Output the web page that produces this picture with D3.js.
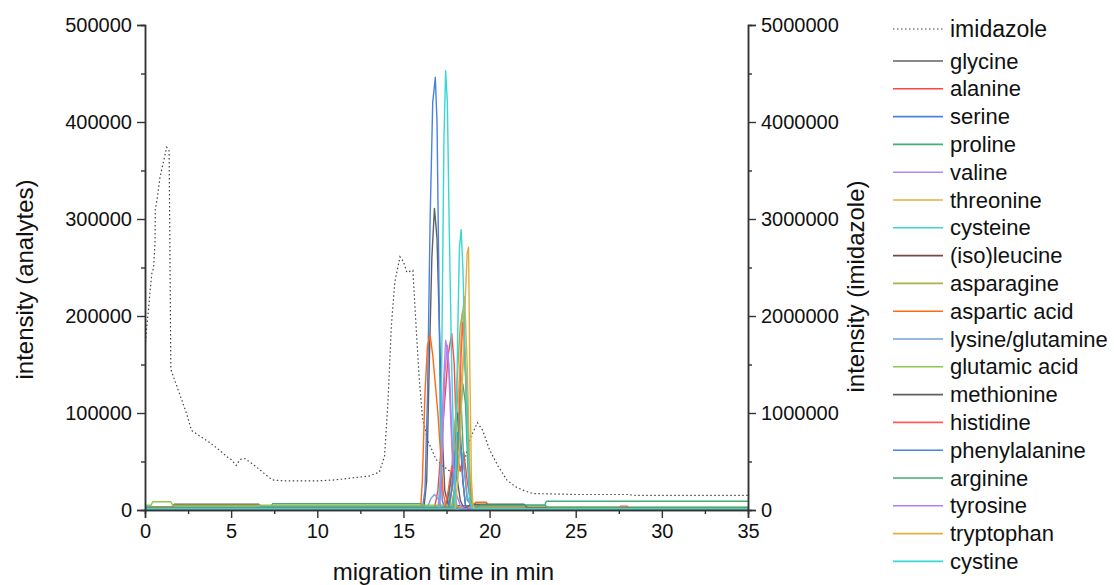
<!DOCTYPE html>
<html>
<head>
<meta charset="UTF-8">
<title>migration</title>
<script src="https://cdnjs.cloudflare.com/ajax/libs/d3/7.8.5/d3.min.js"></script>
<style>
  body { margin: 0; background: #fff; }
  text { font-family: "Liberation Sans", Arial, sans-serif; fill: #111; }
</style>
</head>
<body>
<script>

// imidazole trace (right axis), [time in min, intensity]
var imidazole = [[0,1650000],[0.1,1890000],[0.2,2060000],[0.3,2270000],[0.4,2440000],[0.5,2500000],[0.58,2750000],[0.6,3100000],[0.7,3200000],[0.87,3430000],[1.06,3580000],[1.26,3740000],[1.4,3700000],[1.45,2600000],[1.5,1450000],[1.8,1300000],[2.1,1150000],[2.4,1000000],[2.7,820000],[3.2,760000],[3.8,690000],[4.3,620000],[4.75,550000],[5.0,520000],[5.3,460000],[5.5,520000],[5.8,530000],[6.2,480000],[6.7,410000],[7.1,350000],[7.4,310000],[8,300000],[10,300000],[11,310000],[12,330000],[13,350000],[13.6,390000],[13.9,550000],[14.1,1100000],[14.3,1900000],[14.5,2350000],[14.8,2610000],[15.0,2560000],[15.2,2450000],[15.55,2470000],[15.7,2000000],[15.9,1400000],[16.1,960000],[16.4,720000],[16.9,520000],[17.3,450000],[17.7,400000],[18.1,380000],[18.5,480000],[18.9,750000],[19.3,900000],[19.6,820000],[20.0,620000],[20.5,450000],[21.0,310000],[21.5,240000],[22.0,200000],[22.5,170000],[25,160000],[28,160000],[28.5,150000],[35,150000]];

// analytes (left axis), [time in min, intensity]
var glycine = [[0,3000],[1.6,3000],[1.7,6000],[6.6,6000],[6.7,4000],[16.2,4000],[16.35,30000],[16.5,150000],[16.65,260000],[16.8,311000],[16.95,280000],[17.1,180000],[17.25,80000],[17.4,20000],[17.6,5000],[19,4000],[22,4000],[22.2,2000],[35,2000]];
var alanine = [[0,2000],[16.8,2000],[17.0,20000],[17.3,90000],[17.6,160000],[17.8,182000],[17.95,150000],[18.1,60000],[18.3,40000],[18.5,60000],[18.7,30000],[18.9,8000],[19.2,2000],[35,2000]];
var serine = [[0,1500],[16.1,1500],[16.25,20000],[16.4,120000],[16.55,300000],[16.7,420000],[16.85,446000],[16.95,400000],[17.05,250000],[17.15,80000],[17.25,10000],[17.4,1500],[35,1500]];
var proline = [[0,3000],[7.3,3000],[7.4,6500],[16,6500],[16.2,4000],[17.6,4000],[17.8,40000],[18.0,90000],[18.2,125000],[18.35,110000],[18.5,50000],[18.7,10000],[19.0,5000],[23.2,5000],[23.3,9000],[35,9000]];
var valine = [[0,1000],[17.0,1000],[17.15,30000],[17.3,120000],[17.45,175000],[17.6,160000],[17.75,90000],[17.9,30000],[18.1,5000],[18.3,1000],[35,1000]];
var threonine = [[0,1000],[17.8,1000],[18.0,30000],[18.2,120000],[18.4,200000],[18.55,220000],[18.7,150000],[18.85,40000],[19.0,5000],[19.2,1000],[35,1000]];
var cysteine = [[0,1000],[17.05,1000],[17.15,40000],[17.25,200000],[17.35,380000],[17.45,453000],[17.55,420000],[17.65,300000],[17.8,150000],[17.95,40000],[18.05,5000],[18.2,1000],[35,1000]];
var isoleucine = [[0,500],[17.6,500],[17.8,20000],[18.0,70000],[18.15,100000],[18.3,80000],[18.45,30000],[18.6,5000],[18.8,500],[35,500]];
var asparagine = [[0,2000],[17.7,2000],[17.9,40000],[18.1,130000],[18.3,190000],[18.45,205000],[18.6,140000],[18.75,50000],[18.9,8000],[19.1,2000],[35,2000]];
var asparticAcid = [[0,3000],[1.6,3000],[1.7,4500],[6.5,4500],[6.6,2000],[16.0,2000],[16.1,30000],[16.25,120000],[16.4,170000],[16.55,180000],[16.7,160000],[16.85,130000],[17.0,100000],[17.15,60000],[17.3,20000],[17.45,3000],[19.0,3000],[19.2,8000],[19.8,8000],[20.0,3000],[28.0,3000],[28.1,1500],[35,1500]];
var lysineGlutamine = [[0,4000],[0.4,4000],[0.5,1500],[1.6,1500],[1.7,3000],[16.4,3000],[16.6,12000],[16.8,16000],[17.0,12000],[17.2,3000],[17.8,3000],[18.0,25000],[18.2,55000],[18.35,62000],[18.5,45000],[18.7,15000],[18.9,3000],[35,3000]];
var glutamicAcid = [[0,5000],[0.35,5000],[0.45,8500],[1.5,8500],[1.6,5000],[17.9,5000],[18.1,50000],[18.3,120000],[18.5,160000],[18.65,130000],[18.8,50000],[18.95,8000],[19.1,3000],[35,3000]];
var methionine = [[0,2000],[17.4,2000],[17.6,15000],[17.8,40000],[17.95,48000],[18.1,35000],[18.3,10000],[18.5,2000],[19.0,6000],[22.0,6000],[22.2,2000],[35,2000]];
var histidine = [[0,1500],[17.4,1500],[17.6,20000],[17.8,45000],[18.0,30000],[18.2,80000],[18.35,160000],[18.45,193000],[18.6,150000],[18.75,60000],[18.9,10000],[19.1,1500],[27.5,1500],[27.6,4000],[28.0,4000],[28.1,1500],[35,1500]];
var phenylalanine = [[0,1000],[17.6,1000],[17.8,20000],[18.0,55000],[18.15,80000],[18.3,70000],[18.45,30000],[18.6,5000],[18.8,1000],[29,1000],[29.1,500],[35,500]];
var arginine = [[0,2500],[17.9,2500],[18.1,40000],[18.3,100000],[18.45,130000],[18.6,110000],[18.75,40000],[18.9,6000],[19.1,2500],[19.5,5000],[23.2,5000],[23.4,2500],[35,2500]];
var tyrosine = [[0,800],[17.1,800],[17.25,50000],[17.4,140000],[17.55,170000],[17.7,130000],[17.85,60000],[18.0,20000],[18.3,5000],[18.6,800],[35,800]];
var tryptophan = [[0,1200],[18.0,1200],[18.2,40000],[18.4,120000],[18.55,200000],[18.7,265000],[18.78,271000],[18.85,150000],[18.95,30000],[19.05,3000],[19.2,1200],[35,1200]];
var cystine = [[0,1000],[17.95,1000],[18.05,50000],[18.15,180000],[18.25,270000],[18.35,289000],[18.45,250000],[18.6,150000],[18.75,60000],[18.85,10000],[19.0,1000],[35,1000]];

var names = ["glycine","alanine","serine","proline","valine","threonine","cysteine","(iso)leucine","asparagine","aspartic acid","lysine/glutamine","glutamic acid","methionine","histidine","phenylalanine","arginine","tyrosine","tryptophan","cystine"];
var series = [glycine,alanine,serine,proline,valine,threonine,cysteine,isoleucine,asparagine,asparticAcid,lysineGlutamine,glutamicAcid,methionine,histidine,phenylalanine,arginine,tyrosine,tryptophan,cystine];
var colors = ["#606060","#ff4444","#4a82e2","#45ac78","#b489e6","#dfb043","#38d6d6","#744848","#b0b048","#ff6a10","#76a0d6","#8cc84a","#606060","#ff5a5a","#4a82e2","#45ac78","#b47ef0","#dfb043","#38d6d6"];

var xTicks = [0,5,10,15,20,25,30,35];
var yTicks = [0,100000,200000,300000,400000,500000];
var y2Ticks = [0,1000000,2000000,3000000,4000000,5000000];

var pLeft = 145, pRight = 748, pTop = 25, pBottom = 510;

var svg = d3.select("body").append("svg")
    .attr("width", 1114)
    .attr("height", 585);

var x = d3.scaleLinear().domain([0,35]).range([pLeft,pRight]);
var y = d3.scaleLinear().domain([0,500000]).range([pBottom,pTop]);
var y2 = d3.scaleLinear().domain([0,5000000]).range([pBottom,pTop]);

svg.append("defs").append("clipPath").attr("id","plot")
    .append("rect").attr("x",pLeft).attr("y",pTop-2).attr("width",pRight-pLeft).attr("height",pBottom-pTop+2);

var g = svg.append("g").attr("clip-path","url(#plot)");

var line = d3.line().x(function(d){return x(d[0]);}).y(function(d){return y(d[1]);});
var line2 = d3.line().x(function(d){return x(d[0]);}).y(function(d){return y2(d[1]);});

g.append("path").datum(imidazole)
    .attr("d", line2)
    .attr("fill","none")
    .attr("stroke","#444")
    .attr("stroke-width",1.2)
    .attr("stroke-dasharray","1.5,2.5");

g.selectAll("path.an").data(series).enter().append("path")
    .attr("class","an")
    .attr("d", line)
    .attr("fill","none")
    .attr("stroke", function(d,i){return colors[i];})
    .attr("stroke-width",1.4)
    .attr("stroke-linejoin","round");

// axes
function minor(t){ var m=[]; for(var i=0;i<t.length-1;i++) m.push((t[i]+t[i+1])/2); return m; }

svg.append("g").attr("transform","translate(0,"+pBottom+")")
    .call(d3.axisBottom(x).tickValues(xTicks).tickSize(8).tickPadding(6).tickFormat(d3.format("d")));
svg.append("g").attr("transform","translate(0,"+pBottom+")")
    .call(d3.axisBottom(x).tickValues(minor(xTicks)).tickSize(4).tickFormat(""));

svg.append("g").attr("transform","translate("+pLeft+",0)")
    .call(d3.axisLeft(y).tickValues(yTicks).tickSize(8).tickPadding(5).tickFormat(d3.format("d")));
svg.append("g").attr("transform","translate("+pLeft+",0)")
    .call(d3.axisLeft(y).tickValues(minor(yTicks)).tickSize(4).tickFormat(""));

svg.append("g").attr("transform","translate("+pRight+",0)")
    .call(d3.axisRight(y2).tickValues(y2Ticks).tickSize(8).tickPadding(5).tickFormat(d3.format("d")));
svg.append("g").attr("transform","translate("+pRight+",0)")
    .call(d3.axisRight(y2).tickValues(minor(y2Ticks)).tickSize(4).tickFormat(""));

svg.selectAll(".domain").attr("stroke","#333").attr("stroke-width",1.5);
svg.selectAll(".tick line").attr("stroke","#333").attr("stroke-width",1.4);
svg.selectAll(".tick text").style("font-size","20px").style("font-family","'Liberation Sans', Arial, sans-serif").attr("fill","#111");

// axis titles
svg.append("text").attr("x",(pLeft+pRight)/2 - 3).attr("y",580)
    .attr("text-anchor","middle").style("font-size","24px").text("migration time in min");
svg.append("text").attr("transform","translate(33,"+((pTop+pBottom)/2+12)+") rotate(-90)")
    .attr("text-anchor","middle").style("font-size","24px").text("intensity (analytes)");
svg.append("text").attr("transform","translate(864,"+((pTop+pBottom)/2+19)+") rotate(-90)")
    .attr("text-anchor","middle").style("font-size","24px").text("intensity (imidazole)");

// legend
var lg = svg.append("g");
lg.append("line").attr("x1",893).attr("x2",943).attr("y1",29).attr("y2",29)
    .attr("stroke","#444").attr("stroke-width",1.2).attr("stroke-dasharray","1.5,2.5");
lg.append("text").attr("x",950).attr("y",37).style("font-size","23px").text("imidazole");

var rows = lg.selectAll("g.row").data(names).enter().append("g").attr("class","row")
    .attr("transform", function(d,i){ return "translate(0,"+(61+i*27.8)+")"; });
rows.append("line").attr("x1",893).attr("x2",943).attr("y1",0).attr("y2",0)
    .attr("stroke", function(d,i){return colors[i];}).attr("stroke-width",1.6);
rows.append("text").attr("x",950).attr("y",7.5).style("font-size","22px").text(function(d){return d;});

</script>
</body>
</html>
